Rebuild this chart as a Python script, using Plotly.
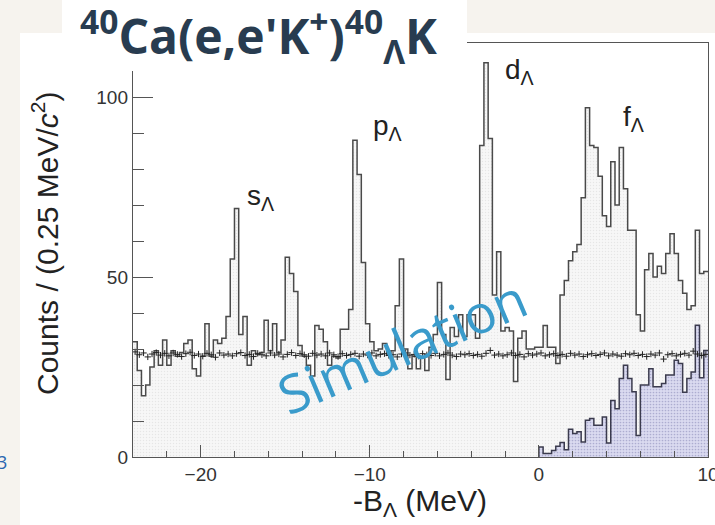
import numpy as np
import plotly.graph_objects as go

# ---------------- data ----------------
BIN_LO = -24.0          # MeV, lower edge of first bin
BIN_W = 0.25            # MeV, bin width

# main (data) histogram, 136 bins from -24 to 10 MeV
counts = [
    32, 24, 17, 20, 25, 29.5, 25.5, 32.5, 25.5, 29.5,
    28, 29, 31.5, 32.5, 24.5, 22.5, 28, 37, 28, 32.5,
    31.5, 33, 39, 55, 69, 34, 39, 25.5, 29.5, 28.5,
    29, 38, 29.5, 37, 29, 32.5, 55.5, 51, 46, 31,
    28, 25.5, 22.5, 36.5, 35.5, 32, 25.5, 28, 27.5, 35.5,
    35.5, 41, 88, 78.5, 54, 37, 32, 29.5, 30, 31.5,
    28.5, 29.5, 42, 55, 30, 24.5, 28, 24.5, 27.5, 24,
    30.5, 34, 48.5, 34, 21.5, 36, 33.5, 39.5, 33.5, 39.5,
    39.5, 33, 86.5, 109.5, 88.5, 45, 57, 35, 36, 35,
    21, 33, 35, 30, 30, 30.5, 30.5, 36.5, 30.5, 30.5,
    26, 45, 49, 54.5, 57, 59, 72, 97, 86.5, 86,
    78, 67, 64, 82, 70, 86, 74.5, 63, 63, 39.5,
    35, 52, 56.5, 50, 53, 51, 56.5, 62, 56.5, 49,
    45.5, 41, 42, 63, 51, 51.5,
]

# accidental background estimate (crosses), one per bin
background = [
    29.2, 28.4, 28.9, 27.8, 28.6, 29.0, 28.3, 28.8, 28.1, 28.9,
    28.5, 27.9, 28.7, 29.1, 28.2, 28.6, 28.0, 28.8, 28.4, 27.7,
    28.9, 28.3, 28.6, 28.1, 28.7, 29.0, 28.2, 28.5, 27.9, 28.8,
    28.4, 28.1, 28.9, 28.3, 28.6, 27.8, 28.5, 29.0, 28.2, 28.7,
    28.4, 28.0, 28.8, 28.3, 28.6, 28.1, 28.9, 28.4, 27.9, 28.7,
    28.2, 28.5, 28.8, 28.0, 28.6, 28.3, 28.9, 28.1, 28.5, 28.7,
    28.2, 28.4, 27.8, 28.6, 28.9, 28.3, 28.5, 28.0, 28.7, 28.4,
    28.2, 28.8, 28.1, 28.5, 28.9, 28.3, 27.9, 28.6, 28.4, 28.7,
    28.2, 28.5, 28.0, 28.8, 29.6, 28.3, 28.6, 28.1, 28.4, 28.9,
    28.2, 28.5, 27.8, 28.7, 28.3, 28.6, 28.9, 28.1, 28.4, 28.7,
    28.2, 28.5, 28.0, 28.8, 28.3, 28.6, 27.9, 28.4, 28.7, 28.2,
    28.5, 28.9, 28.1, 28.6, 28.3, 28.0, 28.7, 28.4, 28.8, 28.2,
    28.5, 27.9, 28.6, 28.3, 28.9, 27.2, 28.4, 28.7, 28.1, 28.5,
    28.8, 28.3, 29.4, 28.6, 28.2, 28.5,
]

# simulated quasi-free contribution, 40 bins from 0 to 10 MeV
QF_LO = 0.0
quasifree = [
    2.8, 1, 1, 1.8, 3, 4, 2, 7.7, 6.5, 7,
    4.2, 10.2, 10.7, 8.8, 8.8, 11.1, 3.9, 15.7, 13.4, 21.8,
    25.5, 21.8, 18.1, 6, 20, 20, 24.5, 19.5, 19.5, 20.4,
    22.8, 22.8, 26.9, 26, 18, 21.8, 23.6, 36.6, 22, 29.6,
]

peak_labels = ["s<sub>Λ</sub>", "p<sub>Λ</sub>", "d<sub>Λ</sub>", "f<sub>Λ</sub>"]
peak_label_x = [-17.35, -9.9, -2.1, 4.85]
peak_label_y = [72, 91.5, 107, 94]

x_ticks = [-20, -10, 0, 10]
y_ticks = [0, 50, 100]

# ---------------- figure ----------------
edges = BIN_LO + BIN_W * np.arange(len(counts) + 1)
centers = BIN_LO + BIN_W * (np.arange(len(counts)) + 0.5)
qf_edges = QF_LO + BIN_W * np.arange(len(quasifree) + 1)

fig = go.Figure()

fig.add_trace(go.Scatter(
    x=edges, y=list(counts) + [counts[-1]],
    mode="lines", line=dict(shape="hv", color="#4a4a4a", width=1.5),
    fill="tozeroy", fillcolor="#f4f4f4",
    fillpattern=dict(shape=".", bgcolor="#f7f7f7", fgcolor="#d6d6d6", size=3, solidity=0.2),
    hoverinfo="skip", showlegend=False,
))

fig.add_trace(go.Scatter(
    x=[QF_LO] + list(qf_edges), y=[0] + list(quasifree) + [quasifree[-1]],
    mode="lines", line=dict(shape="hv", color="#3b3b4e", width=1.5),
    fill="tozeroy", fillcolor="#d6d6ee",
    fillpattern=dict(shape=".", bgcolor="#dadaf0", fgcolor="#7f7fb0", size=3, solidity=0.25),
    hoverinfo="skip", showlegend=False,
))

fig.add_trace(go.Scatter(
    x=centers, y=background, mode="markers",
    marker=dict(symbol="cross-thin", size=4.5, line=dict(color="#222222", width=1)),
    hoverinfo="skip", showlegend=False,
))

axis_common = dict(
    showline=True, linecolor="#555555", linewidth=1.4, mirror=True,
    ticks="inside", tickcolor="#555555", tickwidth=1.2,
    showgrid=False, zeroline=False, ticklabeloverflow="allow", automargin=False,
    tickfont=dict(family="Liberation Sans, Arial, sans-serif", size=19, color="#333333"),
)

fig.update_xaxes(
    range=[-24, 10], tickvals=x_ticks, ticklen=12,
    minor=dict(dtick=2, tick0=0, ticklen=6, ticks="inside", tickcolor="#555555", tickwidth=1.2),
    **axis_common,
)
fig.update_yaxes(
    range=[0, 115], tickvals=y_ticks, ticklen=20,
    minor=dict(dtick=10, tick0=0, ticklen=11, ticks="inside", tickcolor="#555555", tickwidth=1.2),
    **axis_common,
)

W, H = 715, 525
L, R, T, B = 133, 7, 43, 68
pw, ph = W - L - R, H - T - B

def px(x):
    return (x - L) / pw

def py(y):
    return (H - B - y) / ph

OFFWHITE = "#f6f3ee"
shapes = [
    dict(type="rect", xref="paper", yref="paper", x0=px(0), x1=px(62), y0=py(33), y1=py(0),
         fillcolor=OFFWHITE, line=dict(width=0), layer="below"),
    dict(type="rect", xref="paper", yref="paper", x0=px(467), x1=px(W), y0=py(33), y1=py(0),
         fillcolor=OFFWHITE, line=dict(width=0), layer="below"),
    dict(type="rect", xref="paper", yref="paper", x0=px(0), x1=px(20), y0=py(H), y1=py(33),
         fillcolor=OFFWHITE, line=dict(width=0), layer="below"),
    # white title panel overlapping the frame
    dict(type="rect", xref="paper", yref="paper", x0=px(62), x1=px(467), y0=py(71), y1=py(0),
         fillcolor="#ffffff", line=dict(width=0), layer="above"),
]

annotations = [
    dict(text="<b><sup>40</sup>Ca(e,e'K<sup>+</sup>)<sup>40</sup><sub>Λ</sub>K</b>",
         xref="paper", yref="paper", x=px(78), y=py(36), xanchor="left", yanchor="middle",
         showarrow=False, font=dict(family="Open Sans", size=48, color="#283c50")),
    dict(text="Counts / (0.25 MeV/<i>c</i><sup>2</sup>)", textangle=-90,
         xref="paper", yref="paper", x=px(45), y=py(244), xanchor="center", yanchor="middle",
         showarrow=False, font=dict(family="Liberation Sans, Arial, sans-serif", size=30, color="#222222")),
    dict(text="-B<sub>Λ</sub> (MeV)",
         xref="paper", yref="paper", x=px(420), y=py(502), xanchor="center", yanchor="middle",
         showarrow=False, font=dict(family="Liberation Sans, Arial, sans-serif", size=30, color="#222222")),
    dict(text="Simulation", textangle=-23,
         xref="x", yref="y", x=-8.1, y=31, xanchor="center", yanchor="middle",
         showarrow=False, font=dict(family="Open Sans", size=53, color="#3a9bcb")),
    dict(text="3", xref="paper", yref="paper", x=px(9), y=py(462), xanchor="right", yanchor="middle",
         showarrow=False, font=dict(family="Open Sans", size=18, color="#2a66b0")),
]
for t, x, y in zip(peak_labels, peak_label_x, peak_label_y):
    annotations.append(dict(text=t, x=x, y=y, xref="x", yref="y", xanchor="left", yanchor="middle",
                            showarrow=False,
                            font=dict(family="Liberation Sans, Arial, sans-serif", size=28, color="#222222")))

fig.update_layout(
    width=W, height=H, autosize=False,
    margin=dict(l=L, r=R, t=T, b=B, pad=0, autoexpand=False),
    paper_bgcolor="#ffffff", plot_bgcolor="#ffffff",
    shapes=shapes, annotations=annotations,
    showlegend=False,
)

fig.write_html("out.html", config={"displayModeBar": False})
